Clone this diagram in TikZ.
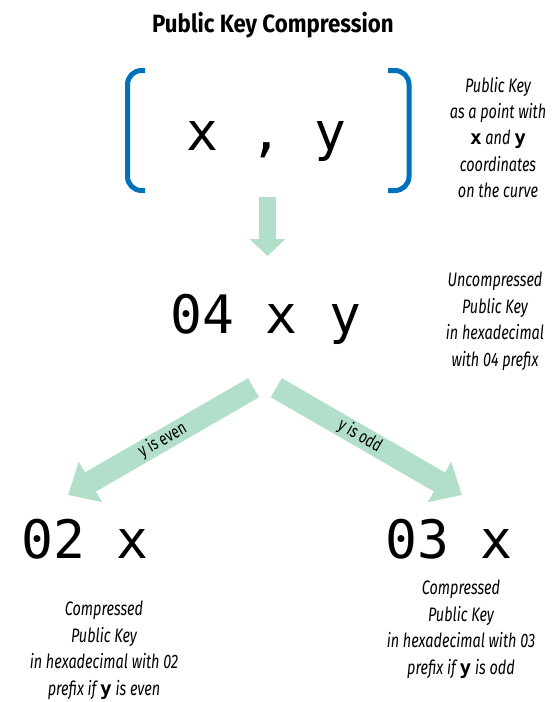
\documentclass[tikz,border=0pt]{standalone}
\usepackage{fontspec}
\setmainfont{Fira Sans}
\newfontfamily\titlefont[FakeStretch=0.89]{Fira Sans}
\newfontfamily\notefont[FakeStretch=0.74]{Fira Sans}
\newfontfamily\keyfont{DejaVu Sans Mono}
\newcommand\keyglyph[1]{{\keyfont\upshape\bfseries #1}}
\usetikzlibrary{arrows.meta}
\definecolor{keyblue}{RGB}{0,114,188}
\definecolor{flowgreen}{RGB}{178,223,201}

\begin{document}
\begin{tikzpicture}[x=1pt,y=-1pt,
  key/.style={font=\keyfont\fontsize{53}{53}\selectfont, inner sep=0pt, anchor=base},
  % multi-line notes are anchored at the baseline of their last line
  note/.style={font=\notefont\itshape\fontsize{19.5}{26.4}\selectfont, align=center, inner sep=0pt, anchor=base},
  bracket/.style={draw=keyblue, line width=5pt, rounded corners=14pt},
  flow/.style={draw=flowgreen, line width=22pt, -{Triangle[width=45pt,length=26pt]}},
  flowlabel/.style={font=\notefont\fontsize{18}{18}\selectfont, inner sep=0pt, sloped},
]
\useasboundingbox (0,0) rectangle (552,702);

% title
\node[font=\titlefont\bfseries\fontsize{25}{25}\selectfont, anchor=base] (title) at (273,32) {Public Key Compression};

% the public key as a point
\node[key] (point) at (266.5,150) {x , y};
\draw[bracket] (145,70.5) -- (127.5,70.5) -- (127.5,190.5) -- (145,190.5);
\draw[bracket] (388,70.5) -- (409,70.5) -- (409,190.5) -- (388,190.5);
\node[note] (pointnote) at (498,197.6) {Public Key\\as a point with\\\keyglyph{x} and \keyglyph{y}\\coordinates\\on the curve};

% uncompressed form
\node[key] (uncomp) at (266,333) {04 x y};
\node[note] (uncompnote) at (495,366) {Uncompressed\\Public Key\\in hexadecimal\\with 04 prefix};
\coordinate (downTail) at (267.5,197);
\coordinate (downTip) at (267.5,256);
\draw[flow, line width=17pt, -{Triangle[width=35pt,length=17pt]}] (downTail) -- (downTip);

% compressed forms
\node[key] (even) at (85,558) {02 x};
\node[key] (odd) at (449,558) {03 x};
\node[note] (evennote) at (104,695) {Compressed\\Public Key\\in hexadecimal with 02\\prefix if \keyglyph{y} is even};
\node[note] (oddnote) at (461,674) {Compressed\\Public Key\\in hexadecimal with 03\\prefix if \keyglyph{y} is odd};

\coordinate (evenTail) at (253.5,387.7);
\coordinate (evenTip) at (68,495);
\coordinate (oddTail) at (276.3,387.7);
\coordinate (oddTip) at (462,495);
\draw[flow] (evenTail) -- node[flowlabel, pos=0.49] (evenlabel) {y is even} (evenTip);
\draw[flow] (oddTail) -- node[flowlabel, pos=0.45] (oddlabel) {y is odd} (oddTip);
\end{tikzpicture}
\end{document}
